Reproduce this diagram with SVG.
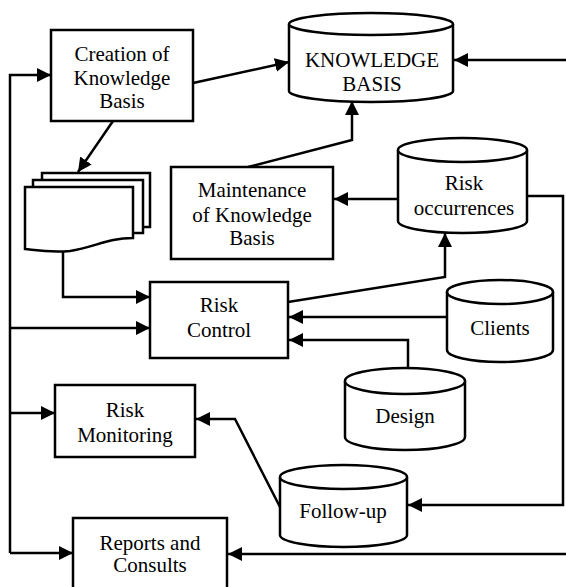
<svg xmlns="http://www.w3.org/2000/svg" width="566" height="587" viewBox="0 0 566 587">
<style>
.box{fill:#fff;stroke:#000;stroke-width:2.5}
.cyl{fill:#fff;stroke:#000;stroke-width:2.5}
.t{font-family:"Liberation Serif","Times New Roman",serif;font-size:21px;text-anchor:middle;fill:#000}
.c{fill:none;stroke:#000;stroke-width:2.5;marker-end:url(#ah)}
</style>
<defs>
<marker id="ah" markerUnits="userSpaceOnUse" markerWidth="16" markerHeight="14" refX="14" refY="7" orient="auto">
<path d="M0,0 L14,7 L0,14 Z" fill="#000"/>
</marker>
</defs>
<g id="connectors">
<path class="c" d="M10,553 V75 H51"/>
<path class="c" d="M10,553 H73"/>
<path class="c" d="M10,328 H150"/>
<path class="c" d="M10,413 H55"/>
<path class="c" d="M193,83 L289,62"/>
<path class="c" d="M113,121 L78,172"/>
<path class="c" d="M63,252 V297 H150"/>
<path class="c" d="M248,167 L352,140 V101"/>
<path class="c" d="M566,60 H454"/>
<path class="c" d="M398,199 H334"/>
<path class="c" d="M288,302 L445,277 V233"/>
<path class="c" d="M527,196 H563 V505 H408"/>
<path class="c" d="M447,317 H289"/>
<path class="c" d="M408,368 V340 H289"/>
<path class="c" d="M280,507 L235,419 H196"/>
<path class="c" d="M566,554 H228"/>
</g>
<g id="creation">
<rect class="box" x="51" y="30" width="142" height="91"/>
<text class="t" x="122" y="61">Creation of</text>
<text class="t" x="122" y="85">Knowledge</text>
<text class="t" x="122" y="108">Basis</text>
</g>
<g id="knowledge-basis">
<path class="cyl" d="M289,24 V91 A82,11 0 0 0 453,91 V24"/>
<ellipse class="cyl" cx="371" cy="24" rx="82" ry="11"/>
<text class="t" x="372" y="67">KNOWLEDGE</text>
<text class="t" x="372" y="91">BASIS</text>
</g>
<g id="documents">
<rect class="box" x="42" y="173" width="108" height="54"/>
<rect class="box" x="33" y="180" width="110" height="53"/>
<path class="box" d="M25,187 H133 V238 C108,238 95,247 70,251 C50,253 35,250 25,249 Z"/>
</g>
<g id="maintenance">
<rect class="box" x="171" y="167" width="162" height="92"/>
<text class="t" x="252" y="197">Maintenance</text>
<text class="t" x="252" y="222">of Knowledge</text>
<text class="t" x="252" y="245">Basis</text>
</g>
<g id="risk-occurrences">
<path class="cyl" d="M398,150 V221 A64.5,12 0 0 0 527,221 V150"/>
<ellipse class="cyl" cx="462.5" cy="150" rx="64.5" ry="12"/>
<text class="t" x="464" y="190">Risk</text>
<text class="t" x="464" y="215">occurrences</text>
</g>
<g id="risk-control">
<rect class="box" x="150" y="282" width="138" height="76"/>
<text class="t" x="219" y="312">Risk</text>
<text class="t" x="219" y="337">Control</text>
</g>
<g id="clients">
<path class="cyl" d="M447,292 V350 A53,12 0 0 0 553,350 V292"/>
<ellipse class="cyl" cx="500" cy="292" rx="53" ry="12"/>
<text class="t" x="500" y="335">Clients</text>
</g>
<g id="design">
<path class="cyl" d="M345,381 V437 A60,13 0 0 0 465,437 V381"/>
<ellipse class="cyl" cx="405" cy="381" rx="60" ry="13"/>
<text class="t" x="405" y="423">Design</text>
</g>
<g id="risk-monitoring">
<rect class="box" x="55" y="385" width="140" height="72"/>
<text class="t" x="125" y="417">Risk</text>
<text class="t" x="125" y="442">Monitoring</text>
</g>
<g id="follow-up">
<path class="cyl" d="M280,477 V535 A63.5,12 0 0 0 407,535 V477"/>
<ellipse class="cyl" cx="343.5" cy="477" rx="63.5" ry="12"/>
<text class="t" x="343" y="518">Follow-up</text>
</g>
<g id="reports">
<rect class="box" x="73" y="518" width="154" height="72"/>
<text class="t" x="150" y="550">Reports and</text>
<text class="t" x="150" y="572">Consults</text>
</g>
</svg>
